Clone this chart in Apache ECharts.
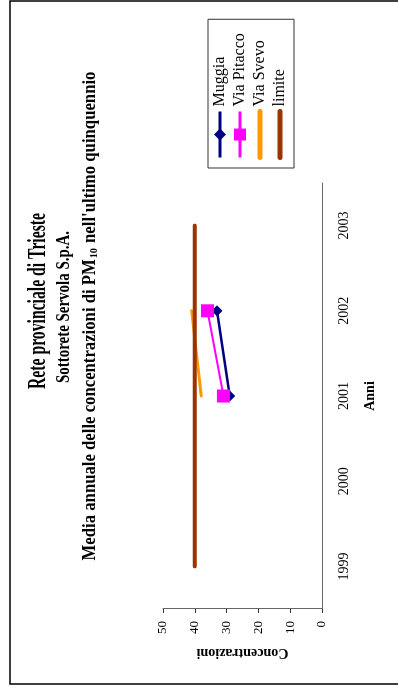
<!DOCTYPE html>
<html>
<head>
<meta charset="utf-8">
<script src="https://cdn.jsdelivr.net/npm/echarts@6/dist/echarts.min.js"></script>
<style>
html,body{margin:0;padding:0;overflow:hidden;background:#fff;width:398px;height:688px;}
#wrap{position:absolute;left:0;top:0;width:688px;height:398px;transform-origin:0 0;transform:translate(0,688px) rotate(-90deg);}
</style>
</head>
<body>
<div id="wrap"></div>
<script>
// ---- data ----
const years = ['1999', '2000', '2001', '2002', '2003'];
const muggia = [null, null, 29, 33, null];
const viaPitacco = [null, null, 31, 36, null];
const viaSvevo = [null, null, 38, 41, null];
const limite = [40, 40, 40, 40, 40];
const valueTicks = [0, 10, 20, 30, 40, 50];

const titleText = 'Rete provinciale di Trieste';
const subText = 'Sottorete Servola S.p.A.';
const line3a = 'Media annuale delle concentrazioni di PM';
const line3sub = '10';
const line3b = " nell'ultimo quinquennio";

// measure helper to condense the title texts like the original
const cv = document.createElement('canvas').getContext('2d');
function w(txt, font){ cv.font = font; return cv.measureText(txt).width; }
const serif = '"Liberation Serif","Times New Roman",serif';
const tFont = 'bold 25px ' + serif, sFont = 'bold 19px ' + serif, lFont = 'bold 18px ' + serif, subFont = 'bold 11px ' + serif;
const tScale = 176 / w(titleText, tFont);
const sScale = 152 / w(subText, sFont);
const lScale = 487 / (w(line3a + line3b, lFont) + w(line3sub, subFont));

const chart = echarts.init(document.getElementById('wrap'));
const option = {
  backgroundColor: '#fff',
  animation: false,
  textStyle: { fontFamily: serif },
  grid: { left: 79, right: 183, top: 163, bottom: 76 },
  legend: {
    orient: 'vertical',
    left: 520, top: 208,
    padding: [4, 14, 6, 8],
    itemWidth: 46, itemHeight: 15, itemGap: 4,
    borderColor: '#333', borderWidth: 1,
    textStyle: { fontFamily: serif, fontSize: 16, color: '#000', lineHeight: 16 },
    data: [
      { name: 'Muggia', lineStyle: { width: 3 } },
      { name: 'Via Pitacco', lineStyle: { width: 3 } },
      { name: 'Via Svevo', itemStyle: { opacity: 0 }, lineStyle: { width: 5, cap: 'round' } },
      { name: 'limite', itemStyle: { opacity: 0 }, lineStyle: { width: 5, cap: 'round' } }
    ]
  },
  xAxis: {
    type: 'category', data: years, boundaryGap: true,
    name: 'Anni', nameLocation: 'middle', nameGap: 41,
    nameTextStyle: { fontFamily: serif, fontWeight: 'bold', fontSize: 14, color: '#000' },
    axisLine: { lineStyle: { color: '#666', width: 1 } },
    axisTick: { inside: false, length: 5, lineStyle: { color: '#333' } },
    axisLabel: { fontFamily: serif, fontSize: 14, color: '#000', margin: 15 }
  },
  yAxis: {
    type: 'value', min: 0, max: 50, interval: 10,
    name: 'Concentrazioni', nameLocation: 'middle', nameGap: 37, nameRotate: 90,
    nameTextStyle: { fontFamily: serif, fontWeight: 'bold', fontSize: 14, color: '#000' },
    splitLine: { show: false },
    axisLine: { show: true, lineStyle: { color: '#666', width: 1 } },
    axisTick: { show: true, length: 4, lineStyle: { color: '#333' } },
    axisLabel: { fontFamily: serif, fontSize: 13, color: '#000', margin: 12,
      formatter: v => valueTicks.includes(v) ? String(v) : '' }
  },
  series: [
    { name: 'Muggia', type: 'line', data: muggia, color: '#000080',
      symbol: 'diamond', symbolSize: 11, showSymbol: true,
      lineStyle: { width: 2.5, color: '#000080' }, itemStyle: { color: '#000080' } },
    { name: 'Via Pitacco', type: 'line', data: viaPitacco, color: '#FF00FF',
      symbol: 'rect', symbolSize: 13,
      lineStyle: { width: 2, color: '#FF00FF' }, itemStyle: { color: '#FF00FF' } },
    { name: 'Via Svevo', type: 'line', data: viaSvevo, color: '#FF9900',
      symbol: 'none', lineStyle: { width: 3, color: '#FF9900', cap: 'round' } },
    { name: 'limite', type: 'line', data: limite, color: '#993300',
      symbol: 'none', lineStyle: { width: 4, color: '#993300', cap: 'round' } }
  ],
  graphic: [
    { type: 'rect', silent: true, shape: { x: 4, y: 10, width: 683, height: 400 },
      style: { fill: null, stroke: '#000', lineWidth: 1.5 } },
    { type: 'text', x: 387, y: 39, scaleX: tScale,
      style: { text: titleText, font: tFont, fill: '#000', align: 'center', verticalAlign: 'middle' } },
    { type: 'text', x: 381, y: 64, scaleX: sScale,
      style: { text: subText, font: sFont, fill: '#000', align: 'center', verticalAlign: 'middle' } },
    { type: 'text', x: 372, y: 90, scaleX: lScale,
      style: { text: line3a + '{sub|' + line3sub + '}' + line3b, font: lFont, fill: '#000',
        align: 'center', verticalAlign: 'middle',
        rich: { sub: { font: subFont, fontFamily: serif, fontWeight: 'bold', fontSize: 11, fill: '#000', padding: [9, 1, 0, 1] } } } }
  ]
};
chart.setOption(option);
</script>
</body>
</html>
